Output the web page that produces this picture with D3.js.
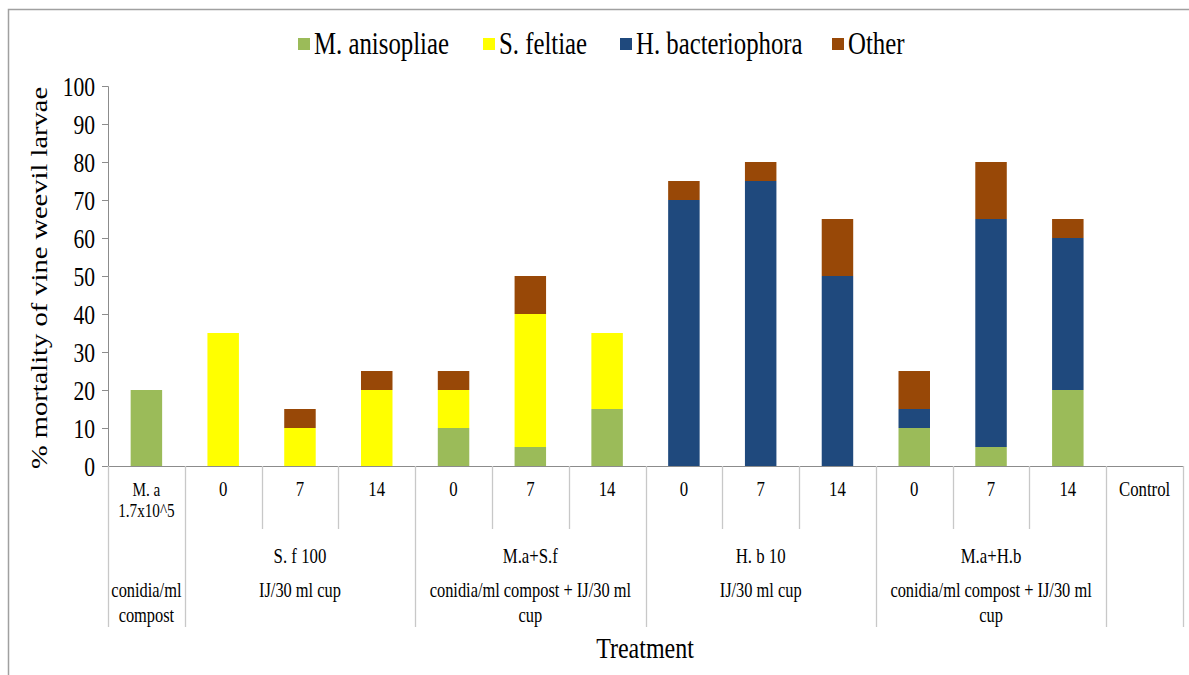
<!DOCTYPE html>
<html>
<head>
<meta charset="utf-8">
<script src="https://cdn.jsdelivr.net/npm/d3@7"></script>
<style>
  body { margin: 0; background: #fff; }
</style>
</head>
<body>
<div id="chart"></div>
<script>
var categories = ["M. a|1.7x10^5", "0", "7", "14", "0", "7", "14", "0", "7", "14", "0", "7", "14", "Control"];
var seriesNames = ["M. anisopliae", "S. feltiae", "H. bacteriophora", "Other"];
var seriesColors = ["#9bbb59", "#ffff00", "#1f497d", "#984807"];
var anisopliae = [20, 0, 0, 0, 10, 5, 15, 0, 0, 0, 10, 5, 20, 0];
var feltiae = [0, 35, 10, 20, 10, 35, 20, 0, 0, 0, 0, 0, 0, 0];
var bacteriophora = [0, 0, 0, 0, 0, 0, 0, 70, 75, 50, 5, 60, 40, 0];
var other = [0, 0, 5, 5, 5, 10, 0, 5, 5, 15, 10, 15, 5, 0];
var groupNames = ["", "S. f 100", "M.a+S.f", "H. b 10", "M.a+H.b", ""];
var groupUnits = ["conidia/ml|compost", "IJ/30 ml cup", "conidia/ml compost + IJ/30 ml|cup", "IJ/30 ml cup", "conidia/ml compost + IJ/30 ml|cup", ""];
var groupSpans = [1, 3, 3, 3, 3, 1];
var yTicks = [0, 10, 20, 30, 40, 50, 60, 70, 80, 90, 100];

var FONT = "'Liberation Serif'";
var SX = 0.8; // the original text looks narrowed

var width = 1189, height = 675;
var svg = d3.select("#chart").append("svg")
	.attr("width", width)
	.attr("height", height);

// put a narrowed text at (px, py)
function label(parent, px, py, lines, size, anchor, lineGap) {
	var t = parent.append("text")
		.attr("transform", "translate(" + px + "," + py + ") scale(" + SX + ",1)")
		.attr("text-anchor", anchor || "middle")
		.style("font-family", FONT)
		.style("font-size", size + "px")
		.style("fill", "#000");
	lines.forEach(function (s, k) {
		t.append("tspan").attr("x", 0).attr("y", k * (lineGap || 0)).text(s);
	});
	return t;
}

// outer frame
svg.append("rect")
	.attr("x", 8.5).attr("y", 9.5)
	.attr("width", 1200).attr("height", 700)
	.style("fill", "none").style("stroke", "#a0a0a0").style("stroke-width", 1.5);

var idx = d3.range(categories.length);
var x = d3.scaleBand().domain(idx).range([108, 1183]);
var y = d3.scaleLinear().domain([0, 100]).range([466, 86]);

var rows = idx.map(function (i) {
	return { i: i, "M. anisopliae": anisopliae[i], "S. feltiae": feltiae[i], "H. bacteriophora": bacteriophora[i], "Other": other[i] };
});
var stacked = d3.stack().keys(seriesNames)(rows);

var barW = x.bandwidth() * 0.41;
svg.selectAll("g.layer")
	.data(stacked)
	.enter().append("g")
	.attr("class", "layer")
	.style("fill", function (d, k) { return seriesColors[k]; })
	.selectAll("rect")
	.data(function (d) { return d.filter(function (p) { return p[1] > p[0]; }); })
	.enter().append("rect")
	.attr("x", function (p) { return x(p.data.i) + (x.bandwidth() - barW) / 2; })
	.attr("y", function (p) { return y(p[1]); })
	.attr("width", barW)
	.attr("height", function (p) { return y(p[0]) - y(p[1]); });

// y axis
var yAxis = svg.append("g")
	.attr("transform", "translate(108,0)")
	.call(d3.axisLeft(y).tickValues(yTicks).tickSize(6).tickPadding(7));
yAxis.attr("font-family", null);
yAxis.select(".domain").style("stroke", "#8c8c8c");
yAxis.selectAll(".tick line").style("stroke", "#8c8c8c");
yAxis.selectAll(".tick text")
	.attr("transform", "scale(" + SX + ",1)")
	.attr("x", -13 / SX)
	.attr("dy", "0.34em")
	.style("font-family", FONT).style("font-size", "27px").style("fill", "#000");

svg.append("text")
	.attr("transform", "translate(47,278) scale(" + SX + ",1) rotate(-90)")
	.attr("text-anchor", "middle")
	.style("font-family", FONT)
	.style("font-size", "28.5px")
	.text("% mortality of vine weevil larvae");

// x axis line
svg.append("line")
	.attr("x1", 102).attr("x2", 1183)
	.attr("y1", 466.5).attr("y2", 466.5)
	.style("stroke", "#8c8c8c");

// table lines
var groupStart = {};
var acc = 0;
groupSpans.forEach(function (s) { groupStart[acc] = true; acc += s; });
groupStart[acc] = true;

d3.range(categories.length + 1).forEach(function (b) {
	var xx = (b < categories.length ? x(b) : x.range()[1]);
	svg.append("line")
		.attr("x1", Math.round(xx) + 0.5).attr("x2", Math.round(xx) + 0.5)
		.attr("y1", 466).attr("y2", groupStart[b] ? 627 : 529)
		.style("stroke", "#c8c8c8").style("stroke-width", 1.3);
});

// category labels
idx.forEach(function (i) {
	var parts = categories[i].split("|");
	label(svg, x(i) + x.bandwidth() / 2, 496, parts, parts.length > 1 ? 19 : 21, "middle", 21);
});

// group labels
var start = 0;
groupSpans.forEach(function (s, g) {
	var cx = (x(start) + (start + s < categories.length ? x(start + s) : x.range()[1])) / 2;
	label(svg, cx, 563, [groupNames[g]], 21, "middle");
	label(svg, cx, 597, groupUnits[g].split("|"), 20.5, "middle", 25);
	start += s;
});

label(svg, 645, 658, ["Treatment"], 30, "middle");

// legend
var legendX = [298, 483, 620, 832];
seriesNames.forEach(function (d, k) {
	svg.append("rect")
		.attr("x", legendX[k]).attr("y", 38)
		.attr("width", 12).attr("height", 12)
		.style("fill", seriesColors[k]);
	label(svg, legendX[k] + 16, 54, [d], 31, "start");
});
</script>
</body>
</html>
